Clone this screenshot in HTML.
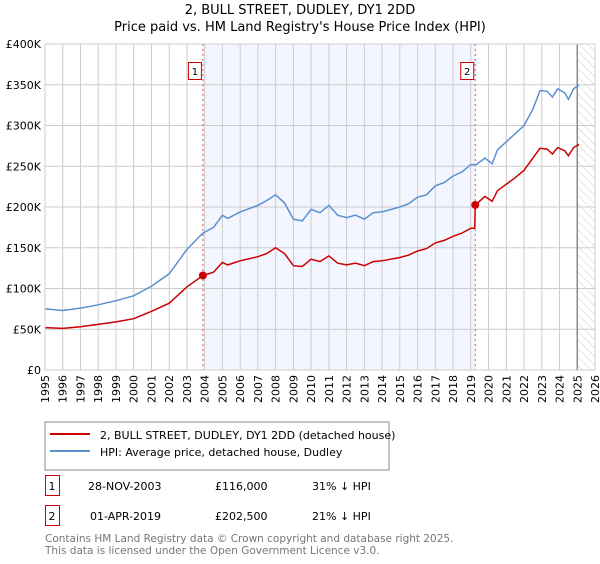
<!DOCTYPE html>
<html><head><meta charset="utf-8"><style>
body{margin:0;background:#fff;font-family:"DejaVu Sans","Liberation Sans",sans-serif;}
svg text{font-family:"DejaVu Sans","Liberation Sans",sans-serif;}
</style></head><body>
<svg id="c" width="600" height="560" xmlns="http://www.w3.org/2000/svg">
<defs><pattern id="hatch" width="6" height="6" patternUnits="userSpaceOnUse" patternTransform="rotate(-45)"><line x1="0" y1="0" x2="0" y2="6" stroke="#ccc" stroke-width="1"/></pattern></defs>
<text x="300" y="14" text-anchor="middle" font-size="13">2, BULL STREET, DUDLEY, DY1 2DD</text>
<text x="300" y="31" text-anchor="middle" font-size="13">Price paid vs. HM Land Registry's House Price Index (HPI)</text>
<g id="plot"></g>
<rect x="45" y="422" width="344" height="48" fill="#fff" stroke="#888"/>
<g><line x1="50" y1="434" x2="90" y2="434" stroke="#cc0000" stroke-width="2"/><text x="100" y="439" font-size="11">2, BULL STREET, DUDLEY, DY1 2DD (detached house)</text></g>
<g><line x1="50" y1="451" x2="90" y2="451" stroke="#5b8fd0" stroke-width="2"/><text x="100" y="456" font-size="11">HPI: Average price, detached house, Dudley</text></g>
<g><rect x="45.5" y="475.5" width="14" height="20" fill="#fff" stroke="#cc0000"/><text x="52" y="490" text-anchor="middle" font-size="11">1</text><text x="88" y="490" font-size="11">28-NOV-2003</text><text x="215" y="490" font-size="11">£116,000</text><text x="312" y="490" font-size="11">31% ↓ HPI</text></g>
<g><rect x="45.5" y="505.5" width="14" height="20" fill="#fff" stroke="#cc0000"/><text x="52" y="520" text-anchor="middle" font-size="11">2</text><text x="90" y="520" font-size="11">01-APR-2019</text><text x="215" y="520" font-size="11">£202,500</text><text x="312" y="520" font-size="11">21% ↓ HPI</text></g>
<text x="45" y="542" font-size="10.5" fill="#777">Contains HM Land Registry data © Crown copyright and database right 2025.</text>
<text x="45" y="554" font-size="10.5" fill="#777">This data is licensed under the Open Government Licence v3.0.</text>
</svg>
<script>
const yearTicks=[1995,1996,1997,1998,1999,2000,2001,2002,2003,2004,2005,2006,2007,2008,2009,2010,2011,2012,2013,2014,2015,2016,2017,2018,2019,2020,2021,2022,2023,2024,2025,2026];
const valueTicks=[0,50,100,150,200,250,300,350,400];
const valueLabels=["£0","£50K","£100K","£150K","£200K","£250K","£300K","£350K","£400K"];
const hpiYears=[1995,1996,1997,1998,1999,2000,2001,2002,2003,2003.9,2004.5,2005,2005.3,2006,2007,2007.5,2008,2008.5,2009,2009.5,2010,2010.5,2011,2011.5,2012,2012.5,2013,2013.5,2014,2015,2015.5,2016,2016.5,2017,2017.5,2018,2018.5,2019,2019.3,2019.8,2020.2,2020.5,2021,2021.5,2022,2022.5,2022.9,2023.3,2023.6,2023.9,2024.3,2024.5,2024.8,2025.1];
const hpiValues=[75,73,76,80,85,91,103,118,148,168,175,190,186,194,202,208,215,205,185,183,197,193,202,190,187,190,185,193,194,200,204,212,215,226,230,238,243,252,252,260,253,270,280,290,300,320,343,342,335,345,340,332,345,350];
const priceYears=[1995,1996,1997,1998,1999,2000,2001,2002,2003,2003.9,2004.5,2005,2005.3,2006,2007,2007.5,2008,2008.5,2009,2009.5,2010,2010.5,2011,2011.5,2012,2012.5,2013,2013.5,2014,2015,2015.5,2016,2016.5,2017,2017.5,2018,2018.5,2019,2019.22,2019.25,2019.8,2020.2,2020.5,2021,2021.5,2022,2022.5,2022.9,2023.3,2023.6,2023.9,2024.3,2024.5,2024.8,2025.1];
const priceValues=[52,51,53,56,59,63,72,82,102,116,120,132,129,134,139,143,150,143,128,127,136,133,140,131,129,131,128,133,134,138,141,146,149,156,159,164,168,174,174,202.5,213,207,220,228,236,245,260,272,271,265,273,269,263,273,277];
const saleYears=[2003.9,2019.25];
const saleValues=[116,202.5];
const saleLabels=["1","2"];
const L=45,R=595,T=44,B=370;
const xs=y=>L+(y-1995)/(2026-1995)*(R-L);
const ys=v=>B-v/400*(B-T);
const NS="http://www.w3.org/2000/svg";
const g=document.getElementById('plot');
function mk(t,a){const e=document.createElementNS(NS,t);for(const k in a)e.setAttribute(k,a[k]);g.appendChild(e);return e;}
let e;
e=mk('rect',{x:xs(saleYears[0]),y:T,width:xs(saleYears[1])-xs(saleYears[0]),height:B-T,fill:'#f0f4ff',opacity:0.8});


e=mk('rect',{x:xs(2025),y:T,width:R-xs(2025),height:B-T,fill:'url(#hatch)'});


yearTicks.forEach(yr=>{
 e=mk('line',{x1:xs(yr),x2:xs(yr),y1:T,y2:B,stroke:'#ccc'});
 
 
 e=mk('text',{x:0,y:0,'font-size':11,'text-anchor':'end',transform:`translate(${xs(yr)+4},${B+5}) rotate(-90)`});
 e.textContent=yr;
 
 
});
valueTicks.forEach((v,i)=>{
 e=mk('line',{x1:L,x2:R,y1:ys(v),y2:ys(v),stroke:'#ccc'});
 
 
 e=mk('text',{x:L-4,y:ys(v)+4,'font-size':11,'text-anchor':'end'});
 e.textContent=valueLabels[i];
 
 
});
e=mk('line',{x1:xs(2025),x2:xs(2025),y1:T,y2:B,stroke:'#888','stroke-width':1.5});


saleYears.forEach((yr,i)=>{
 e=mk('line',{x1:xs(yr),x2:xs(yr),y1:T,y2:B,stroke:'#e05050','stroke-dasharray':'2,3'});
 
 
 e=mk('rect',{x:xs(yr)-14.5,y:62.5,width:13,height:17,fill:'#fff',stroke:'#cc0000'});
 
 
 e=mk('text',{x:xs(yr)-8,y:75,'font-size':10,'text-anchor':'middle'});
 e.textContent=saleLabels[i];
 
 
});
e=mk('path',{d:hpiYears.map((y,i)=>(i?'L':'M')+xs(y).toFixed(1)+','+ys(hpiValues[i]).toFixed(1)).join(''),fill:'none',stroke:'#5b8fd0','stroke-width':1.5});


e=mk('path',{d:priceYears.map((y,i)=>(i?'L':'M')+xs(y).toFixed(1)+','+ys(priceValues[i]).toFixed(1)).join(''),fill:'none',stroke:'#cc0000','stroke-width':1.5});


saleYears.forEach((yr,i)=>{
 e=mk('circle',{cx:xs(yr),cy:ys(saleValues[i]),r:4,fill:'#cc0000'});
 
 
});
e=mk('rect',{x:L,y:T,width:R-L,height:B-T,fill:'none',stroke:'#ccc'});


</script>
</body></html>
